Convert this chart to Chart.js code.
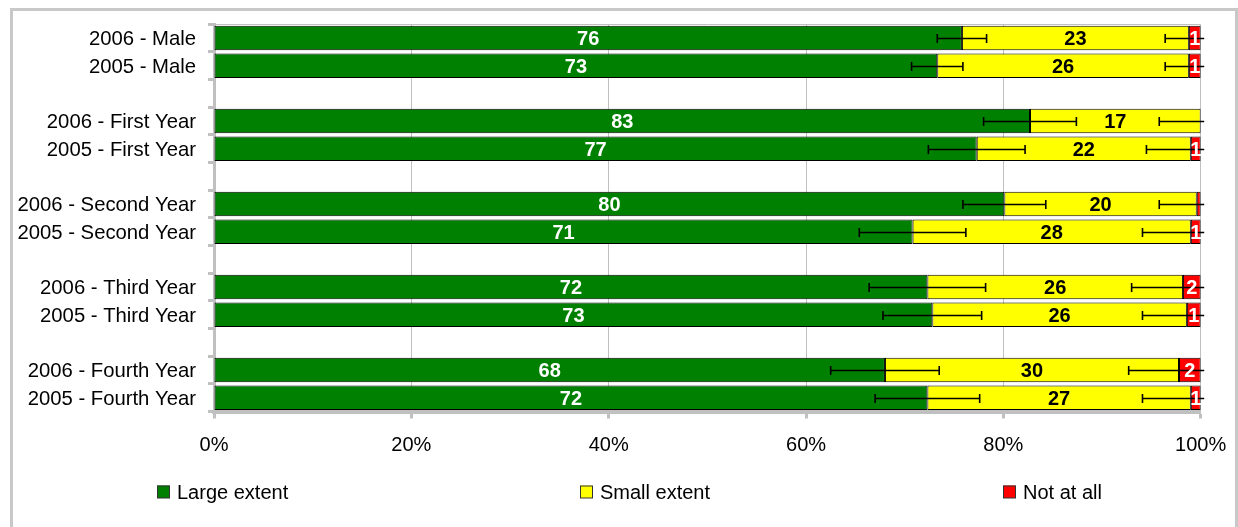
<!DOCTYPE html>
<html>
<head>
<meta charset="utf-8">
<script src="https://cdn.jsdelivr.net/npm/chart.js@4.4.1/dist/chart.umd.min.js"></script>
<style>
html,body{margin:0;padding:0;background:#fff;}
canvas{display:block;}
</style>
</head>
<body>
<canvas id="c" width="1238" height="527"></canvas>
<script>
// ---- data ----
const categories = ['2006 - Male', '2005 - Male', '', '2006 - First Year', '2005 - First Year', '',
  '2006 - Second Year', '2005 - Second Year', '', '2006 - Third Year', '2005 - Third Year', '',
  '2006 - Fourth Year', '2005 - Fourth Year'];
const seriesNames = ['Large extent', 'Small extent', 'Not at all'];
const largeExtent = [75.8, 73.3, null, 82.7, 77.3, null, 80.1, 70.8, null, 72.3, 72.8, null, 68.0, 72.3];
const smallExtent = [23.0, 25.5, null, 17.3, 21.7, null, 19.5, 28.2, null, 25.9, 25.8, null, 29.8, 26.7];
const notAtAll    = [1.2, 1.2, null, 0, 1.0, null, 0.4, 1.0, null, 1.8, 1.4, null, 2.2, 1.0];
const largeError  = [2.5, 2.6, null, 4.7, 4.9, null, 4.2, 5.4, null, 5.9, 5.0, null, 5.5, 5.3];
const smallError  = [2.4, 2.4, null, 4.2, 4.5, null, 3.8, 4.9, null, 5.2, 4.5, null, 5.1, 4.9];
const xTickValues = [0, 20, 40, 60, 80, 100];

const FONT = "'Liberation Sans', Arial, Helvetica, sans-serif";
const colors = ['#008000', '#ffff00', '#ff0000'];
const labelColors = ['#ffffff', '#000000', '#ffffff'];
const GRAY = '#c0c0c0';

// frame + background
const framePlugin = {
  id: 'frame',
  beforeDraw(chart) {
    const ctx = chart.ctx;
    ctx.save();
    ctx.fillStyle = '#fff';
    ctx.fillRect(0, 0, chart.width, chart.height);
    ctx.strokeStyle = '#c8c8c8';
    ctx.lineWidth = 3;
    ctx.strokeRect(11.5, 9.5, 1225, 600);
    ctx.restore();
  }
};

// error bars
const errorBarPlugin = {
  id: 'errorBars',
  afterDatasetsDraw(chart) {
    const ctx = chart.ctx, xs = chart.scales.x, area = chart.chartArea;
    const errs = [largeError, smallError];
    ctx.save();
    ctx.beginPath();
    ctx.rect(area.left - 10, area.top, area.right - area.left + 13.5, area.bottom - area.top);
    ctx.clip();
    ctx.strokeStyle = '#000';
    ctx.lineWidth = 1.6;
    errs.forEach((arr, di) => {
      const meta = chart.getDatasetMeta(di);
      meta.data.forEach((bar, i) => {
        const e = arr[i];
        if (e == null) return;
        let cum = 0;
        for (let d = 0; d <= di; d++) cum += chart.data.datasets[d].data[i] || 0;
        const x1 = xs.getPixelForValue(cum - e);
        const x2 = xs.getPixelForValue(cum + e);
        const y = Math.round(bar.y) + 0.5;
        ctx.beginPath();
        ctx.moveTo(x1, y); ctx.lineTo(x2, y);
        ctx.moveTo(x1, y - 4.5); ctx.lineTo(x1, y + 4.5);
        ctx.moveTo(x2, y - 4.5); ctx.lineTo(x2, y + 4.5);
        ctx.stroke();
      });
    });
    ctx.restore();
  }
};

// value labels
const valueLabelPlugin = {
  id: 'valueLabels',
  afterDatasetsDraw(chart) {
    const ctx = chart.ctx;
    ctx.save();
    ctx.font = "bold 20px " + FONT;
    ctx.textAlign = 'center';
    ctx.textBaseline = 'middle';
    chart.data.datasets.forEach((ds, di) => {
      const meta = chart.getDatasetMeta(di);
      meta.data.forEach((bar, i) => {
        const v = ds.data[i];
        if (v == null || Math.round(v) < 1) return;
        ctx.fillStyle = labelColors[di];
        ctx.fillText(String(Math.round(v)), (bar.x + bar.base) / 2, bar.y + 1.5);
      });
    });
    ctx.restore();
  }
};

// legend laid out in evenly spaced columns
const legendPlugin = {
  id: 'columnLegend',
  afterDraw(chart) {
    const ctx = chart.ctx;
    ctx.save();
    ctx.font = "20px " + FONT;
    ctx.textBaseline = 'middle';
    ctx.textAlign = 'left';
    const y = 492;
    chart.data.datasets.forEach((ds, di) => {
      const x = 157 + di * 423;
      ctx.fillStyle = ds.backgroundColor;
      ctx.fillRect(x, y - 6.5, 12.5, 12.5);
      ctx.strokeStyle = '#333';
      ctx.lineWidth = 1;
      ctx.strokeRect(x + 0.5, y - 6, 12, 12);
      ctx.fillStyle = '#000';
      ctx.fillText(ds.label, x + 20, y + 1);
    });
    ctx.restore();
  }
};

const datasets = [largeExtent, smallExtent, notAtAll].map((arr, i) => ({
  label: seriesNames[i],
  data: arr,
  backgroundColor: colors[i],
  borderColor: '#000',
  borderWidth: 1,
  borderSkipped: false,
  barPercentage: 0.885,
  categoryPercentage: 1.0
}));

new Chart(document.getElementById('c'), {
  type: 'bar',
  data: { labels: categories, datasets },
  plugins: [framePlugin, errorBarPlugin, valueLabelPlugin, legendPlugin],
  options: {
    indexAxis: 'y',
    responsive: false,
    animation: false,
    devicePixelRatio: 1,
    layout: { padding: { top: 23.5, right: 37.3, bottom: 0, left: 0 } },
    plugins: {
      legend: { display: false },
      tooltip: { enabled: false },
      title: { display: false }
    },
    scales: {
      x: {
        stacked: true,
        min: 0,
        max: 100,
        afterBuildTicks: s => { s.ticks = xTickValues.map(v => ({ value: v })); },
        afterFit: s => { s.height = 115.5; s.paddingLeft = 0; s.paddingRight = 0; },
        border: { display: true, color: GRAY, width: 4 },
        grid: {
          display: true,
          color: GRAY,
          lineWidth: 1,
          drawOnChartArea: true,
          drawTicks: true,
          tickLength: 7,
          tickWidth: 3,
          tickColor: GRAY
        },
        ticks: {
          color: '#000',
          font: { family: FONT, size: 20 },
          padding: 15,
          callback: v => v + '%'
        }
      },
      y: {
        stacked: true,
        afterFit: s => { s.width = 214; },
        border: { display: true, color: GRAY, width: 3 },
        grid: {
          display: true,
          offset: true,
          drawOnChartArea: true,
          color: c => c.index === 0 ? GRAY : 'rgba(0,0,0,0)',
          lineWidth: 1,
          drawTicks: true,
          tickLength: 6,
          tickWidth: 3,
          tickColor: GRAY
        },
        ticks: {
          autoSkip: false,
          color: '#000',
          font: { family: FONT, size: 20.3 },
          padding: 12,
          labelOffset: 1.5
        }
      }
    }
  }
});
</script>
</body>
</html>
